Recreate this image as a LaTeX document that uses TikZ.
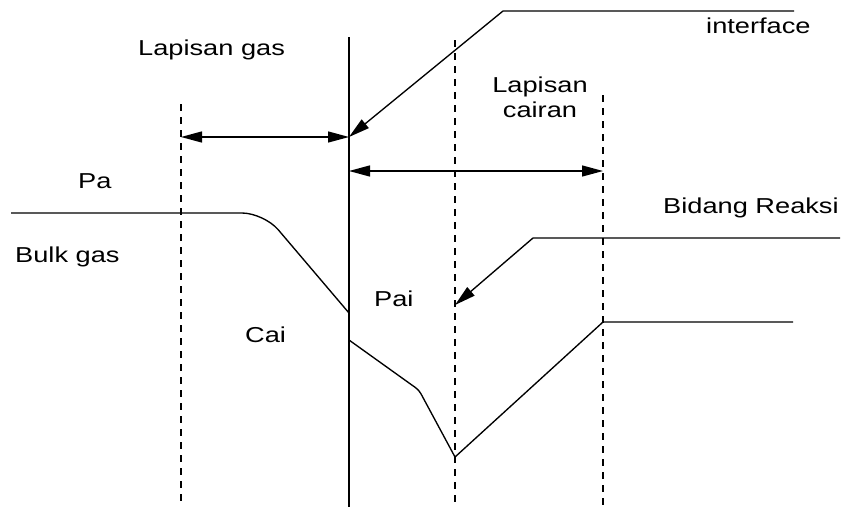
\documentclass[tikz,border=0pt]{standalone}
\usepackage{fontspec}
\setmainfont{Liberation Sans}
\usetikzlibrary{arrows.meta}
\newcommand{\wide}[1]{\scalebox{1.26}[1]{#1}}
\begin{document}
\begin{tikzpicture}[x=1pt,y=-1pt,
  ln/.style={line width=1.35pt},
  dsh/.style={line width=1.3pt, dash pattern=on 7pt off 6pt},
  tip/.style={-{Triangle[length=21pt,width=11pt]}},
  dbl/.style={{Triangle[length=21pt,width=11pt]}-{Triangle[length=21pt,width=11pt]}},
  lbl/.style={inner sep=0pt, anchor=base west, font=\fontsize{21.6}{25}\selectfont}]
\useasboundingbox (0,0) rectangle (851,507);
% vertical lines
\coordinate (ifTop) at (349,37);  \coordinate (ifBot) at (349,507);
\coordinate (gTop) at (181,104);  \coordinate (gBot) at (181,507);
\coordinate (mTop) at (455,40);   \coordinate (mBot) at (455,507);
\coordinate (lTop) at (603,95);   \coordinate (lBot) at (603,507);
\draw[ln] (ifTop) -- (ifBot);
\draw[dsh] (gTop) -- (gBot);
\draw[dsh] (mTop) -- (mBot);
\draw[dsh] (lTop) -- (lBot);
% film thickness arrows
\coordinate (ga) at (181,137); \coordinate (gb) at (349,137);
\coordinate (la) at (349,171); \coordinate (lb) at (603,171);
\draw[ln,dbl] (ga) -- (gb);
\draw[ln,dbl] (la) -- (lb);
% interface pointer
\coordinate (i1) at (794,11); \coordinate (i2) at (503,11);
\draw[ln,tip] (i1) -- (i2) -- (gb);
% reaction plane pointer
\coordinate (b1) at (840,238); \coordinate (b2) at (533,238); \coordinate (b3) at (455,305);
\draw[ln,tip] (b1) -- (b2) -- (b3);
% gas partial pressure profile
\coordinate (p1) at (11,213); \coordinate (p2) at (264,213); \coordinate (p3) at (349,313);
\draw[ln,rounded corners=22pt] (p1) -- (p2) -- (p3);
% liquid concentration profile
\coordinate (c1) at (349,340); \coordinate (c2) at (419,390); \coordinate (c3) at (455,457);
\coordinate (c4) at (603,322); \coordinate (c5) at (793,322);
\draw[ln] (c1) -- (411,384.4) .. controls (c2) .. (423.5,398.5) -- (c3) -- (c4) -- (c5);
% labels
\node[lbl] (pa) at (78,188) {\wide{Pa}};
\node[lbl] (bulk) at (15,262) {\wide{Bulk gas}};
\node[lbl] (lg) at (138,55) {\wide{Lapisan gas}};
\node[lbl,anchor=base,align=center] (lc) at (540,117) {\wide{Lapisan}\\\wide{cairan}};
\node[lbl] (intf) at (706,33) {\wide{interface}};
\node[lbl] (br) at (663,213) {\wide{Bidang Reaksi}};
\node[lbl] (pai) at (374,306) {\wide{Pai}};
\node[lbl] (cai) at (245,342) {\wide{Cai}};
\end{tikzpicture}
\end{document}
